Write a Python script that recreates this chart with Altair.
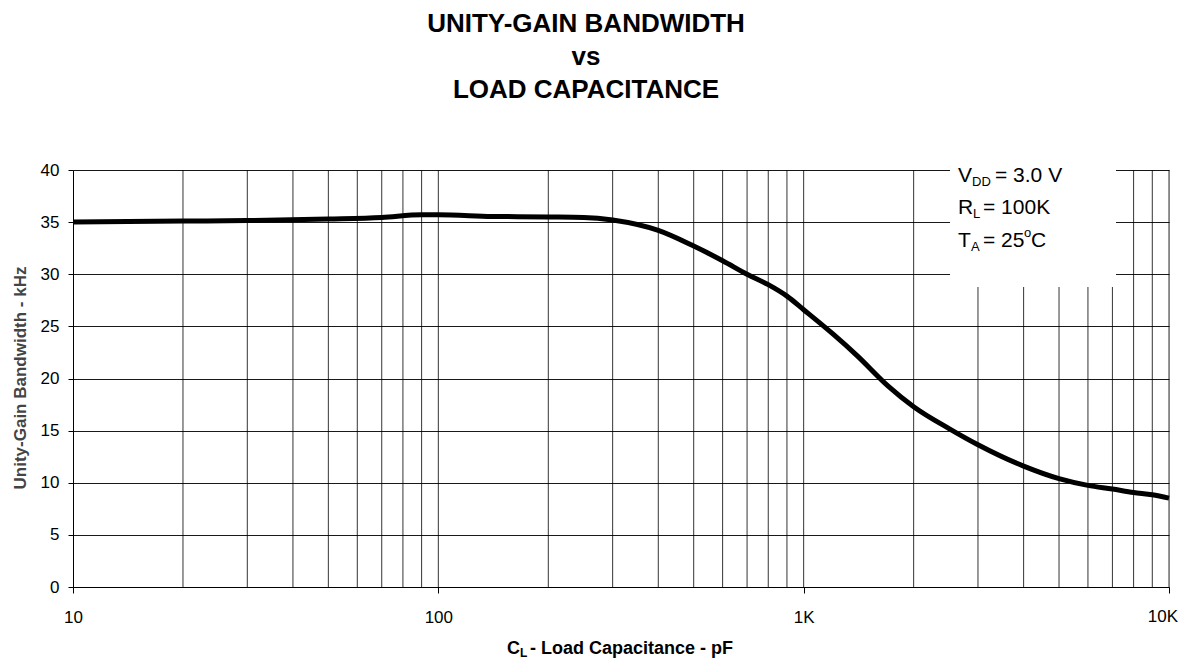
import altair as alt
import pandas as pd

# ---- data ----
cap_pf = [10, 20, 30, 50, 70, 90, 100, 140, 200, 250, 300, 400, 500, 600, 700, 800, 900,
          1000, 1200, 1400, 1700, 2000, 2500, 3000, 4000, 5000, 6000, 7000, 8000, 9000, 10000]
bw_khz = [35.0, 35.1, 35.15, 35.3, 35.45, 35.7, 35.7, 35.55, 35.5, 35.45, 35.2, 34.2, 32.7, 31.3,
          30.0, 29.0, 27.9, 26.6, 24.3, 22.2, 19.3, 17.3, 15.2, 13.65, 11.6, 10.4, 9.75,
          9.4, 9.07, 8.85, 8.53]
grid_x = [20, 30, 40, 50, 60, 70, 80, 90, 100, 200, 300, 400, 500, 600, 700, 800, 900, 1000,
          2000, 3000, 4000, 5000, 6000, 7000, 8000, 9000, 10000]
x_ticks = [10, 100, 1000, 10000]
y_ticks = [0, 5, 10, 15, 20, 25, 30, 35, 40]
title_lines = ["UNITY-GAIN BANDWIDTH", "vs", "LOAD CAPACITANCE"]

FONT = "Liberation Sans"
W, H = 1096, 417

curve = pd.DataFrame({"cap": cap_pf, "bw": bw_khz})
grid = pd.DataFrame({"g": grid_x})
one = pd.DataFrame({"a": [0]})


def xenc(field):
    return alt.X(
        f"{field}:Q",
        scale=alt.Scale(type="log", domain=[10, 10000], nice=False),
        axis=alt.Axis(
            values=x_ticks, grid=False, title=None,
            labelExpr="datum.value >= 10000 ? '' : datum.value >= 1000 ? format(datum.value/1000, 'd') + 'K' : format(datum.value, 'd')",
            labelFont=FONT, labelFontSize=17, labelColor="black", labelPadding=16,
            tickSize=6, tickColor="black", domainColor="black", labelFlush=False,
        ),
    )


yenc = alt.Y(
    "bw:Q",
    scale=alt.Scale(domain=[0, 40], nice=False),
    axis=alt.Axis(
        values=y_ticks, grid=True, gridColor="black", gridOpacity=0.9, title=None,
        labelFont=FONT, labelFontSize=17, labelColor="black", labelPadding=9,
        tickSize=5, tickColor="black", domainColor="black",
    ),
)

rules = alt.Chart(grid).mark_rule(color="black", strokeWidth=1, opacity=0.8).encode(x=xenc("g"))

line = alt.Chart(curve).mark_line(color="black", strokeWidth=5, interpolate="monotone").encode(
    x=xenc("cap"), y=yenc
)

box = alt.Chart(one).mark_rect(color="white").encode(
    x=alt.value(877), x2=alt.value(1043), y=alt.value(-2), y2=alt.value(117)
)


def txt(text, x, y, size, weight="normal", align="left", baseline="alphabetic", color="black", angle=0):
    return alt.Chart(one).mark_text(
        text=text, font=FONT, fontSize=size, fontWeight=weight, align=align,
        baseline=baseline, color=color, angle=angle,
    ).encode(x=alt.value(x), y=alt.value(y))


layers = [rules, line, box]

# title
for i, t in enumerate(title_lines):
    layers.append(txt(t, 513, -138 + 33 * i, 26, weight="bold", align="center"))

# legend box text
layers += [
    txt("V", 885, 12, 21), txt("DD", 899, 16, 13), txt("= 3.0 V", 922, 12, 21),
    txt("R", 885, 44, 21), txt("L", 900, 48, 13), txt("= 100K", 910, 44, 21),
    txt("T", 885, 77, 21), txt("A", 898, 81, 13), txt("= 25", 910, 77, 21),
    txt("o", 951, 67, 13), txt("C", 958, 77, 21),
]

# last x tick label kept inside the page
layers.append(txt("10K", W + 9, H + 6 + 16, 17, align="right", baseline="top"))

# axis titles
layers += [
    txt("C", 434, 484, 18, weight="bold"),
    txt("L", 447, 487, 12, weight="bold"),
    txt("- Load Capacitance - pF", 457, 484, 18, weight="bold"),
    txt("Unity-Gain Bandwidth - kHz", -52, 208, 17, weight="bold", align="center",
        baseline="middle", color="#444444", angle=270),
]

chart = alt.layer(*layers).properties(
    width=W, height=H,
    autosize=alt.AutoSizeParams(type="none"),
    padding={"left": 65, "top": 162, "right": 10, "bottom": 76},
).configure_view(stroke=None).configure(background="white")

chart.save("out.html", embed_options={"renderer": "svg", "actions": False})
